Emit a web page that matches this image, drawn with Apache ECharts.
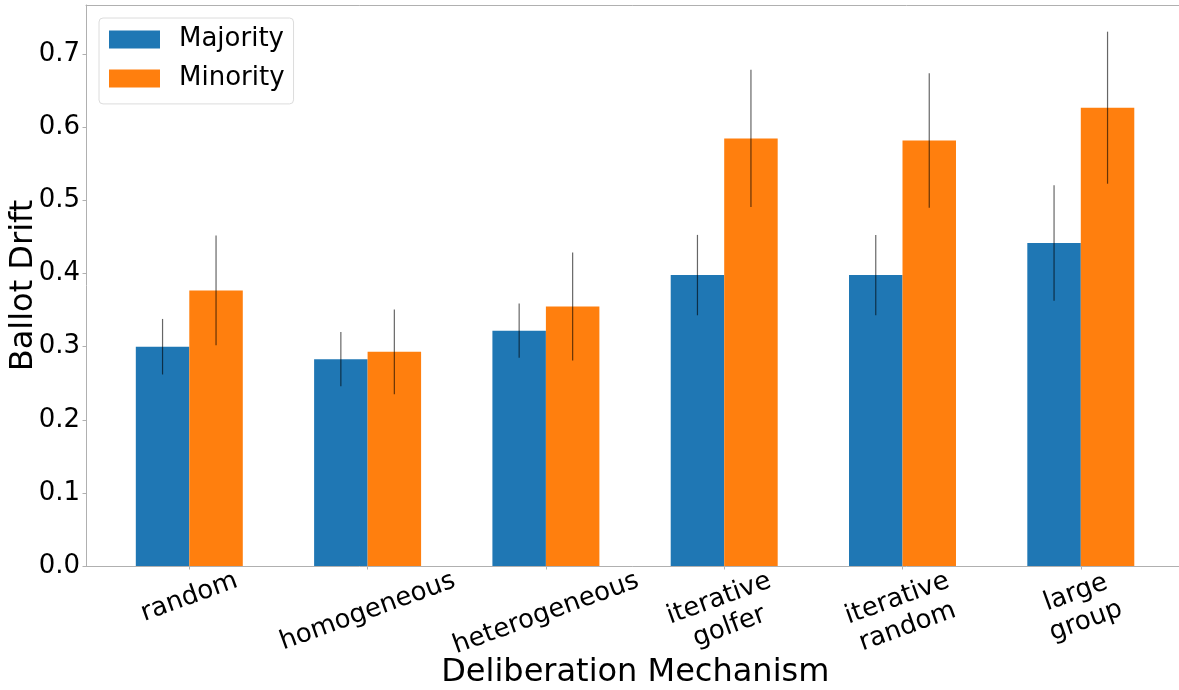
<!DOCTYPE html>
<html><head><meta charset="utf-8">
<script src="https://cdn.jsdelivr.net/npm/echarts@6/dist/echarts.min.js"></script>
<style>html,body{margin:0;padding:0;background:#fff}#c{width:1179px;height:690px}</style>
</head><body><div id="c"></div>
<script>
const categories = ['random', 'homogeneous', 'heterogeneous', 'iterative\ngolfer', 'iterative\nrandom', 'large\ngroup'];
const seriesNames = ['Majority', 'Minority'];
const majority = [0.300, 0.283, 0.322, 0.398, 0.398, 0.442];
const minority = [0.377, 0.293, 0.355, 0.585, 0.582, 0.627];
const majorityErr = [0.038, 0.037, 0.037, 0.055, 0.055, 0.079];
const minorityErr = [0.075, 0.058, 0.074, 0.094, 0.092, 0.104];
const yTicks = [0.0, 0.1, 0.2, 0.3, 0.4, 0.5, 0.6, 0.7];
const yMin = 0, yMax = 0.7675;

const FONT = 'DejaVu Sans';
const SPINE = '#b0b0b0';
const COLORS = ['#1f77b4', '#ff7f0e'];

// rotated tick label placement (matplotlib style: rotated box top-aligned, centered on tick)
const LABEL_FONT = '26px "DejaVu Sans"';
const ctx = document.createElement('canvas').getContext('2d');
ctx.font = LABEL_FONT;
const ROT = 20 * Math.PI / 180, S = Math.sin(ROT), C = Math.cos(ROT), LH = 30;
const offs = categories.map(t => {
  const lines = t.split('\n');
  const w = Math.max(...lines.map(l => ctx.measureText(l).width));
  const h = lines.length * LH;
  return w / 2 * S + h / 2 * C;
});

function errSeries(vals, errs, sign) {
  return {
    type: 'custom', xAxisIndex: 2, yAxisIndex: 1, z: 10, silent: true,
    data: vals.map((v, i) => [i, v - errs[i], v + errs[i]]),
    renderItem(params, api) {
      const i = api.value(0);
      const dx = sign * api.size([1, 0])[0] * 0.15;
      const p1 = api.coord([i, api.value(1)]);
      const p2 = api.coord([i, api.value(2)]);
      return {
        type: 'line',
        shape: { x1: p1[0] + dx, y1: p1[1], x2: p2[0] + dx, y2: p2[1] },
        style: { stroke: 'rgba(0,0,0,0.6)', lineWidth: 1.2 }
      };
    }
  };
}

const labelSeries = {
  type: 'custom', xAxisIndex: 2, yAxisIndex: 1, z: 10, silent: true, clip: false,
  data: categories.map((c, i) => [i, yMin]),
  renderItem(params, api) {
    const i = api.value(0);
    const p = api.coord([i, api.value(1)]);
    return {
      type: 'text',
      x: p[0], y: p[1] + offs[i],
      rotation: ROT,
      style: {
        text: categories[i], align: 'center', verticalAlign: 'middle',
        font: LABEL_FONT, fill: '#000', lineHeight: LH
      }
    };
  }
};

const chart = echarts.init(document.getElementById('c'), null, { renderer: 'canvas' });
chart.setOption({
  animation: false,
  backgroundColor: '#fff',
  textStyle: { fontFamily: FONT },
  grid: [
    { left: 86, top: 5, width: 1098.6, height: 561, outerBoundsMode: 'none', containLabel: false },
    { left: 100.15, top: 5, width: 1069.8, height: 561, outerBoundsMode: 'none', containLabel: false }
  ],
  legend: {
    data: seriesNames,
    orient: 'vertical',
    left: 99, top: 18,
    padding: [8.6, 9, 12.3, 10],
    itemWidth: 51, itemHeight: 18, itemGap: 13,
    icon: 'rect',
    backgroundColor: 'rgba(255,255,255,0.8)',
    borderColor: '#dcdcdc', borderWidth: 1, borderRadius: 4,
    textStyle: { fontFamily: FONT, fontSize: 26, color: '#000', padding: [0, 0, 0, 14] }
  },
  xAxis: [
    {
      type: 'value', gridIndex: 0, min: 0, max: 1, position: 'bottom',
      axisLine: { show: true, lineStyle: { color: SPINE, width: 1 } },
      axisTick: { show: false }, axisLabel: { show: false }, splitLine: { show: false },
      name: 'Deliberation Mechanism', nameLocation: 'middle', nameGap: 91, nameMoveOverlap: false,
      nameTextStyle: { fontFamily: FONT, fontSize: 32, color: '#000', lineHeight: 32 }
    },
    {
      type: 'value', gridIndex: 0, min: 0, max: 1, position: 'top',
      axisLine: { show: true, lineStyle: { color: SPINE, width: 1 } },
      axisTick: { show: false }, axisLabel: { show: false }, splitLine: { show: false }
    },
    {
      type: 'category', gridIndex: 1, data: categories, boundaryGap: true,
      axisLine: { show: false },
      axisTick: { show: true, alignWithLabel: true, length: 3.5, lineStyle: { color: SPINE } },
      axisLabel: { show: false },
      splitLine: { show: false }
    }
  ],
  yAxis: [
    {
      type: 'value', gridIndex: 0, min: yMin, max: yMax, interval: 0.1,
      axisLine: { show: true, lineStyle: { color: SPINE, width: 1 } },
      axisTick: { show: true, length: 3.5, lineStyle: { color: SPINE } },
      axisLabel: {
        margin: 6, fontFamily: FONT, fontSize: 26, color: '#000',
        showMaxLabel: false,
        formatter: v => { const t = yTicks.find(k => Math.abs(k - v) < 1e-6); return t === undefined ? '' : t.toFixed(1); }
      },
      splitLine: { show: false },
      name: 'Ballot Drift', nameLocation: 'middle', nameGap: 46, nameMoveOverlap: false,
      nameTextStyle: { fontFamily: FONT, fontSize: 32, color: '#000', lineHeight: 32 }
    },
    {
      type: 'value', gridIndex: 1, min: yMin, max: yMax, show: false
    }
  ],
  series: [
    { name: seriesNames[0], type: 'bar', xAxisIndex: 2, yAxisIndex: 1, data: majority, barWidth: '30%', barGap: '0%', itemStyle: { color: COLORS[0] } },
    { name: seriesNames[1], type: 'bar', xAxisIndex: 2, yAxisIndex: 1, data: minority, barWidth: '30%', barGap: '0%', itemStyle: { color: COLORS[1] } },
    errSeries(majority, majorityErr, -1),
    errSeries(minority, minorityErr, 1),
    labelSeries
  ]
});
</script></body></html>
